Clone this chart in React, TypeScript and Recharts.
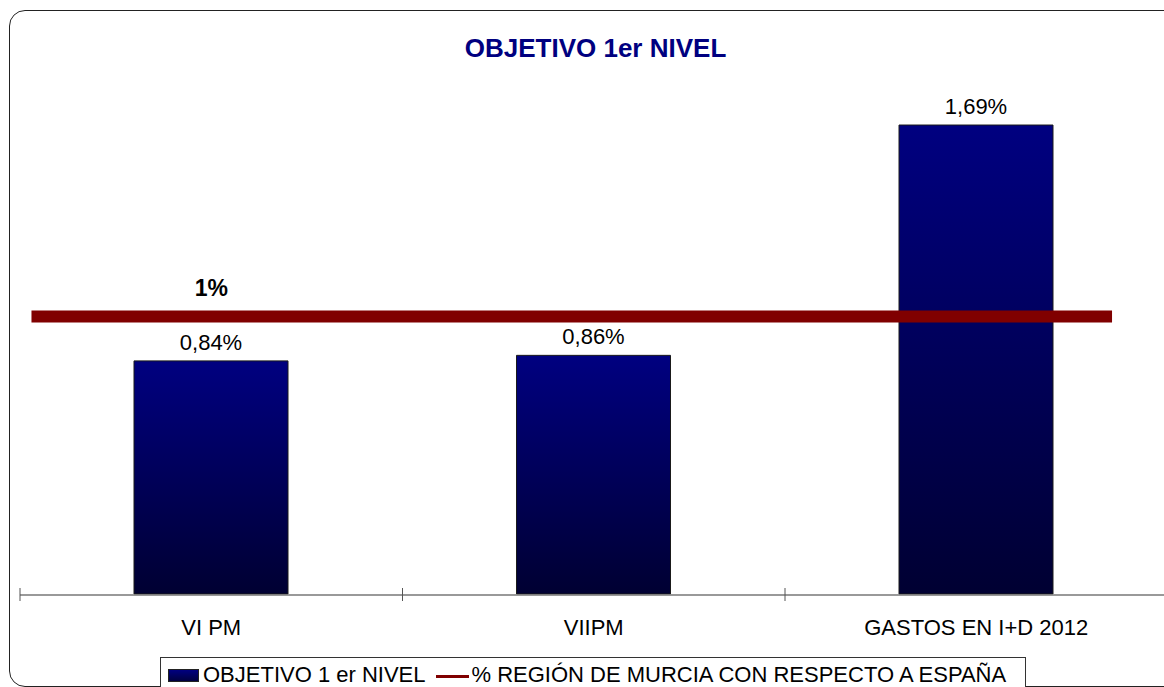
import { ComposedChart, Bar, Line, XAxis, YAxis, LabelList } from 'recharts';

const title = 'OBJETIVO 1er NIVEL';
const categories = ['VI PM', 'VIIPM', 'GASTOS EN I+D 2012'];
const objetivoValues = [0.84, 0.86, 1.69];
const barSeriesName = 'OBJETIVO 1 er NIVEL';

// reference line: Región de Murcia vs España = 1%
const lineSeriesName = '% REGIÓN DE MURCIA CON RESPECTO A ESPAÑA';
const murciaValue = 1;
const murciaLinePos = [0.03, 0.5, 2.855];
const murciaLabels = [undefined, '1%', undefined];
const boundaryTicks = [0, 1, 2, 3];

const barData = categories.map((name, i) => ({ name, objetivo: objetivoValues[i] }));
const lineData = murciaLinePos.map((pos, i) => ({ pos, murcia: murciaValue, label: murciaLabels[i] }));

const FONT = '"Liberation Sans", Arial, sans-serif';
const fmtPct = (v: number) => `${v.toFixed(2).replace('.', ',')}%`;

export default function App() {
  return (
    <div
      style={{
        position: 'absolute',
        left: 0,
        top: 0,
        width: 1164,
        height: 687,
        overflow: 'hidden',
        background: '#fff',
        fontFamily: FONT,
      }}
    >
      <div
        style={{
          position: 'absolute',
          left: 9,
          top: 10,
          width: 1300,
          height: 677,
          border: '1.5px solid #222',
          borderRadius: 16,
          boxSizing: 'border-box',
        }}
      />
      <div
        style={{
          position: 'absolute',
          left: 0,
          top: 33,
          width: 1191,
          textAlign: 'center',
          fontSize: 26,
          fontWeight: 'bold',
          color: '#000080',
        }}
      >
        {title}
      </div>

      <div style={{ position: 'absolute', left: 0, top: 0 }}>
        <ComposedChart
          width={1180}
          height={687}
          data={barData}
          margin={{ top: 39, right: 12.5, bottom: 91, left: 20 }}
        >
          <defs>
            <linearGradient id="barGrad" x1="0" y1="0" x2="0" y2="1">
              <stop offset="0%" stopColor="#000080" />
              <stop offset="100%" stopColor="#000032" />
            </linearGradient>
          </defs>
          <XAxis
            xAxisId="pos"
            dataKey="pos"
            type="number"
            domain={[0, 3]}
            ticks={boundaryTicks}
            allowDataOverflow
            height={1}
            tickFormatter={() => ''}
            axisLine={{ stroke: '#777', strokeWidth: 1.5 }}
            tickLine={{ stroke: '#555', transform: 'translate(0,-7)' }}
            tickSize={13}
          />
          <XAxis
            xAxisId="cat"
            dataKey="name"
            height={1}
            axisLine={false}
            tickLine={false}
            tickSize={0}
            tickMargin={25}
            interval={0}
            tick={{ fill: '#000', fontSize: 22, fontFamily: FONT }}
          />
          <YAxis hide domain={[0, 2]} />
          <Bar
            xAxisId="cat"
            dataKey="objetivo"
            name={barSeriesName}
            fill="url(#barGrad)"
            stroke="#1a1a1a"
            strokeWidth={1}
            barSize={154}
            isAnimationActive={false}
          >
            <LabelList
              dataKey="objetivo"
              position="top"
              offset={11}
              formatter={(v: any) => fmtPct(Number(v))}
              style={{ fill: '#000', fontSize: 22, fontFamily: FONT }}
            />
          </Bar>
          <Line
            xAxisId="pos"
            data={lineData}
            dataKey="murcia"
            name={lineSeriesName}
            stroke="#800000"
            strokeWidth={12}
            dot={false}
            activeDot={false}
            isAnimationActive={false}
          >
            <LabelList
              dataKey="label"
              position="top"
              offset={21}
              style={{ fill: '#000', fontSize: 23, fontWeight: 'bold', fontFamily: FONT }}
            />
          </Line>
        </ComposedChart>
      </div>

      <div
        style={{
          position: 'absolute',
          left: 160,
          top: 657,
          width: 866,
          height: 40,
          border: '1.5px solid #333',
          boxSizing: 'border-box',
          background: '#fff',
          display: 'flex',
          alignItems: 'flex-start',
          paddingTop: 4,
          paddingLeft: 7,
          fontSize: 22,
          color: '#000',
          whiteSpace: 'nowrap',
        }}
      >
        <span
          style={{
            display: 'inline-block',
            width: 31,
            height: 13,
            marginTop: 7,
            marginRight: 4,
            background: 'linear-gradient(#000080, #000040)',
            border: '1px solid #222',
            boxSizing: 'border-box',
          }}
        />
        <span>{barSeriesName}</span>
        <span
          style={{
            display: 'inline-block',
            width: 33,
            height: 3,
            marginTop: 13,
            marginLeft: 10,
            marginRight: 3,
            background: '#800000',
          }}
        />
        <span>{lineSeriesName}</span>
      </div>
    </div>
  );
}
